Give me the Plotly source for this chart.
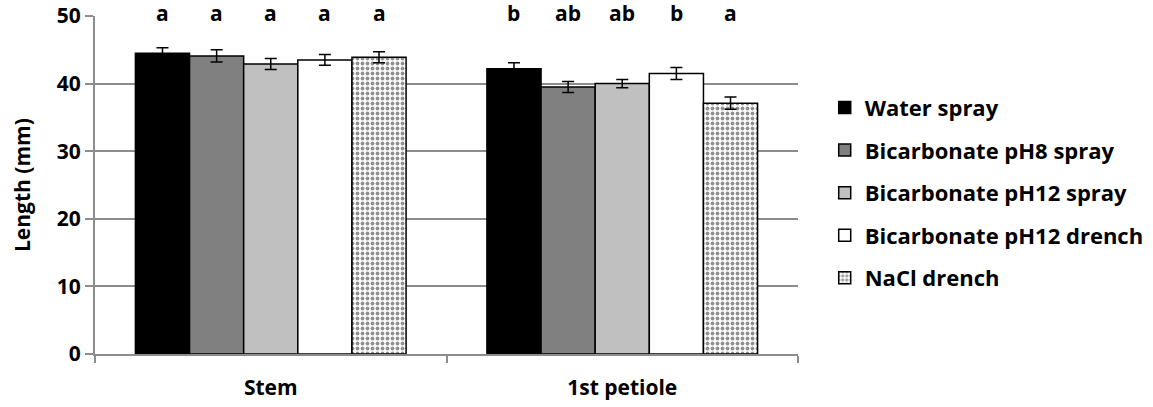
import plotly.graph_objects as go

categories = ["Stem", "1st petiole"]
series_names = ["Water spray", "Bicarbonate pH8 spray", "Bicarbonate pH12 spray",
                "Bicarbonate pH12 drench", "NaCl drench"]
values = [
    [44.5, 42.2],
    [44.1, 39.5],
    [42.9, 40.0],
    [43.5, 41.5],
    [43.9, 37.1],
]
errors = [
    [0.8, 0.9],
    [0.9, 0.8],
    [0.8, 0.6],
    [0.8, 0.9],
    [0.8, 0.9],
]
letters = [
    ["a", "b"],
    ["a", "ab"],
    ["a", "ab"],
    ["a", "b"],
    ["a", "a"],
]
y_title = "Length (mm)"
colors = ["#000000", "#808080", "#c0c0c0", "#ffffff", "#ffffff"]

FONT = "'Open Sans', sans-serif"
FS = 21
LFS = 22

fig = go.Figure()
for i, name in enumerate(series_names):
    pattern = dict(shape=".", fgcolor="#222222", bgcolor="#ffffff", size=5, solidity=0.45) if i == 4 else dict(shape="")
    fig.add_trace(go.Bar(
        x=categories, y=values[i], name=name,
        marker=dict(color=colors[i], line=dict(color="black", width=1.5), pattern=pattern),
        error_y=dict(type="data", array=errors[i], color="black", thickness=1.5, width=6),
        legendgroup=f"g{i}", offsetgroup=str(i),
    ))

# significance letters
n = len(series_names)
bargap = 0.23
bw = (1 - bargap) / n
for i in range(n):
    for j, cat in enumerate(categories):
        xpos = j - (1 - bargap) / 2 + bw * (i + 0.5)
        fig.add_annotation(x=xpos, y=50, xref="x", yref="y", text=f"<b>{letters[i][j]}</b>",
                           showarrow=False, yanchor="middle", yshift=3,
                           font=dict(size=FS, color="black", family=FONT))

# y-axis title
fig.add_annotation(x=-(95 - 22) / 703, y=0.5, xref="paper", yref="paper",
                   text=f"<b>{y_title}</b>", textangle=-90, showarrow=False,
                   xanchor="center", yanchor="middle",
                   font=dict(size=FS, color="black", family=FONT))

fig.update_layout(
    width=1153, height=407,
    margin=dict(l=95, r=355, t=16, b=53, autoexpand=False),
    barmode="group", bargap=bargap, bargroupgap=0,
    plot_bgcolor="white", paper_bgcolor="white",
    font=dict(family=FONT, size=FS, color="black"),
    legend=dict(x=1.038, y=0.791, xanchor="left", yanchor="top",
                font=dict(size=LFS, family=FONT, weight="bold"),
                tracegroupgap=11, traceorder="grouped", itemwidth=30),
    showlegend=True,
)
fig.update_xaxes(
    type="category", range=[-0.5, 1.5],
    showline=True, linecolor="#8c8c8c", linewidth=2,
    ticks="outside", tickson="boundaries", ticklen=7, tickcolor="#8c8c8c", tickwidth=2,
    tickfont=dict(size=FS, family=FONT, weight="bold"), ticklabelstandoff=14,
    showgrid=False, automargin=False,
)
fig.update_yaxes(
    range=[0, 50], dtick=10,
    showline=True, linecolor="#8c8c8c", linewidth=2,
    ticks="outside", ticklen=8, tickcolor="#8c8c8c", tickwidth=2,
    showgrid=True, gridcolor="#8c8c8c", gridwidth=2,
    tickfont=dict(size=FS, family=FONT, weight="bold"),
    zeroline=False, automargin=False,
)

fig.write_html("out.html")
